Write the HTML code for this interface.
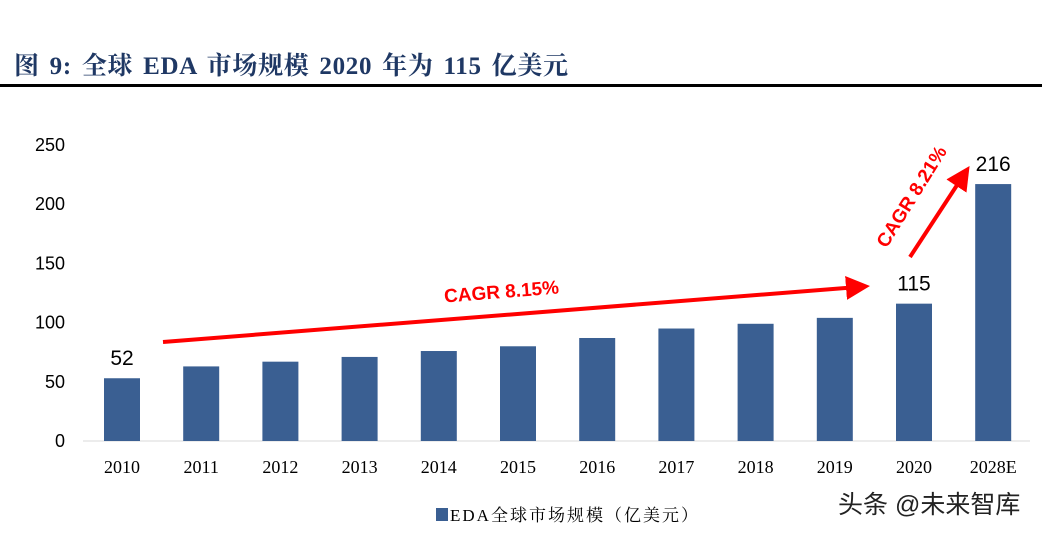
<!DOCTYPE html>
<html><head><meta charset="utf-8"><style>
body{margin:0;width:1042px;height:534px;background:#fff;overflow:hidden;font-family:"Liberation Serif","Noto Serif CJK SC",serif;}
#title{position:absolute;left:14px;top:46px;font-size:25px;font-weight:bold;color:#1f3864;letter-spacing:0.7px;word-spacing:3px;}
#rule{position:absolute;left:0;top:84px;width:1042px;height:3px;background:#000;}
</style></head><body>
<div id="title">图 9:&nbsp;全球 EDA 市场规模 2020 年为 115 亿美元</div>
<div id="rule"></div>
<svg id="chart" width="1042" height="534" style="position:absolute;left:0;top:0">
<defs><marker id="ah" markerWidth="6" markerHeight="6" refX="3" refY="3" orient="auto"><path d="M0,0 L6,3 L0,6 Z" fill="#ff0000"/></marker></defs>
<g id="axes"></g><g id="bars"></g>
</svg>
<script>
const categories=["2010","2011","2012","2013","2014","2015","2016","2017","2018","2019","2020","2028E"];
const values=[53,63,67,71,76,80,87,95,99,104,116,217];
const yTicks=[0,50,100,150,200,250];
const labelVals=["52",null,null,null,null,null,null,null,null,null,"115","216"];
const NS="http://www.w3.org/2000/svg";
const y0=441,yTop=145,x0=83,step=79.2,bw=36;
const y=v=>y0-(v/250)*(y0-yTop);
const xc=i=>122+i*step;
const axes=document.getElementById('axes'),bars=document.getElementById('bars');
function mk(tag,attrs,parent,txt){const e=document.createElementNS(NS,tag);for(const k in attrs)e.setAttribute(k,attrs[k]);if(txt!==undefined)e.textContent=txt;parent.appendChild(e);return e;}
const ax=mk('line',{x1:x0,y1:y0,x2:1030,y2:y0,stroke:'#d9d9d9','stroke-width':1},axes);


yTicks.forEach(t=>{const e=mk('text',{x:65,y:y(t)+6,'text-anchor':'end','font-size':18,fill:'#000','font-family':'Liberation Sans, sans-serif'},axes,t);

});
categories.forEach((c,i)=>{
const r=mk('rect',{x:xc(i)-bw/2,y:y(values[i]),width:bw,height:y0-y(values[i]),fill:'#3a5f92'},bars);


const t=mk('text',{x:xc(i),y:473,'text-anchor':'middle','font-size':18,fill:'#000'},axes,c);


if(labelVals[i]){const l=mk('text',{x:xc(i),y:y(values[i])-13,'text-anchor':'middle','font-size':21,fill:'#000','font-family':'Liberation Sans, sans-serif'},bars,labelVals[i]);

}
});
const a1=mk('line',{x1:163,y1:342,x2:858,y2:287,stroke:'#ff0000','stroke-width':4,'marker-end':'url(#ah)'},axes);


const t1=mk('text',{x:502,y:298,'text-anchor':'middle','font-size':19,'font-weight':'bold',fill:'#ff0000','font-family':'Liberation Sans, sans-serif',transform:'rotate(-4.5 502 298)'},axes,'CAGR 8.15%');


const a2=mk('line',{x1:910,y1:257,x2:963,y2:176,stroke:'#ff0000','stroke-width':4,'marker-end':'url(#ah)'},axes);


const t2=mk('text',{x:917,y:200,'text-anchor':'middle','font-size':19,'font-weight':'bold',fill:'#ff0000','font-family':'Liberation Sans, sans-serif',transform:'rotate(-58 917 200)'},axes,'CAGR 8.21%');


const lg=mk('rect',{x:436,y:508,width:12,height:13,fill:'#3a5f92'},axes);


const lt=mk('text',{x:450,y:521,'font-size':17,'letter-spacing':2,fill:'#000','font-family':'Liberation Serif, Noto Serif CJK SC, serif'},axes,'EDA全球市场规模（亿美元）');


const wm=mk('text',{x:838,y:513,'font-size':25,fill:'#222','font-family':'Liberation Sans, Noto Sans CJK SC, sans-serif'},axes,'头条 @未来智库');


</script>
</body></html>
